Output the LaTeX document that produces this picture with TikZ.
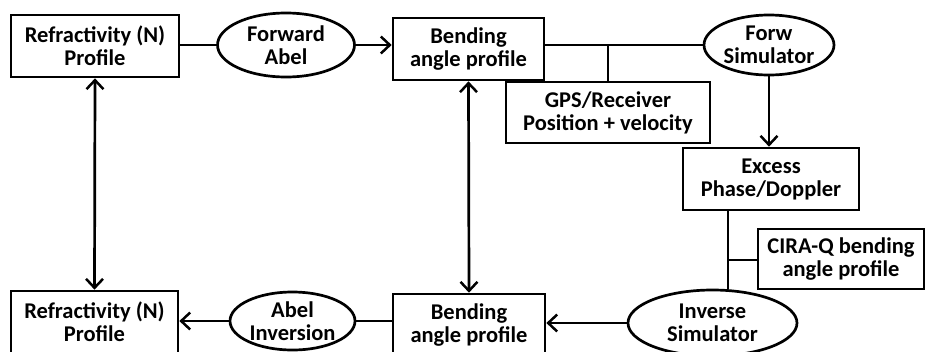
\documentclass[tikz,border=0pt]{standalone}
\usepackage{fontspec}
\setmainfont{Carlito}
\usepackage{tikz}
\usetikzlibrary{positioning,arrows.meta,calc,shapes.geometric}
\tikzset{
  flowbox/.style={draw, line width=2.7pt, align=center, inner sep=0pt,
    font=\bfseries\fontsize{22.5}{23}\selectfont},
  flowoval/.style={flowbox, ellipse},
  flowline/.style={line width=2.7pt},
  flowarrow/.style={flowline, -{Straight Barb[length=9pt, width=17pt, line width=2.5pt]}},
  flowboth/.style={flowline, {Straight Barb[length=9pt, width=17pt, line width=2.5pt]}-{Straight Barb[length=9pt, width=17pt, line width=2.5pt]}},
}

\begin{document}
\begin{tikzpicture}[x=1pt, y=-1pt]
  \useasboundingbox (0,0) rectangle (926,351);
  % top row
  \node[flowbox, minimum width=168pt, minimum height=62pt] (refT) at (95,46) {Refractivity (N)\\Profile};
  \node[flowoval, minimum width=137pt, minimum height=64pt] (abelF) at (286,45) {Forward\\Abel};
  \node[flowbox, minimum width=151pt, minimum height=62pt] (bendT) at (468.5,49) {Bending\\angle profile};
  \node[flowbox, minimum width=204pt, minimum height=61pt] (gps) at (608,112.5) {GPS/Receiver\\Position + velocity};
  \node[flowoval, minimum width=130pt, minimum height=60pt] (forwS) at (769,45) {Forw\\Simulator};
  % right column
  \node[flowbox, minimum width=176pt, minimum height=62pt] (excess) at (771,179) {Excess\\Phase/Doppler};
  \node[flowbox, minimum width=166pt, minimum height=60pt] (cira) at (841,259) {CIRA-Q bending\\angle profile};
  \coordinate (junc) at (728,260);
  % bottom row
  \node[flowoval, minimum width=169pt, minimum height=66pt] (inv) at (712.5,323) {Inverse\\Simulator};
  \node[flowbox, minimum width=152pt, minimum height=62pt] (bendB) at (469,325) {Bending\\angle profile};
  \node[flowoval, minimum width=125pt, minimum height=58pt] (abelI) at (292.5,321) {Abel\\Inversion};
  \node[flowbox, minimum width=167pt, minimum height=62pt] (refB) at (94.5,322) {Refractivity (N)\\Profile};

  \draw[flowline] (refT.east |- abelF.west) -- (abelF.west);
  \draw[flowarrow] (abelF.east) -- (abelF.east -| bendT.west);
  \draw[flowline] (bendT.east |- forwS.west) -- (forwS.west);
  \draw[flowline] (gps.north) -- (gps.north |- forwS.west);
  \draw[flowarrow] (forwS.south) -- (forwS.south |- excess.north);
  \draw[flowline] (excess.south -| junc) -- (inv.north -| junc);
  \draw[flowline] (junc) -- (cira.west |- junc);
  \draw[flowarrow] (inv.west) -- (inv.west -| bendB.east);
  \draw[flowline] (abelI.east) -- (abelI.east -| bendB.west);
  \draw[flowarrow] (abelI.west) -- (abelI.west -| refB.east);
  \draw[flowboth] (refT.south) -- (refB.north);
  \draw[flowboth] (bendT.south) -- (bendB.north);
\end{tikzpicture}
\end{document}
